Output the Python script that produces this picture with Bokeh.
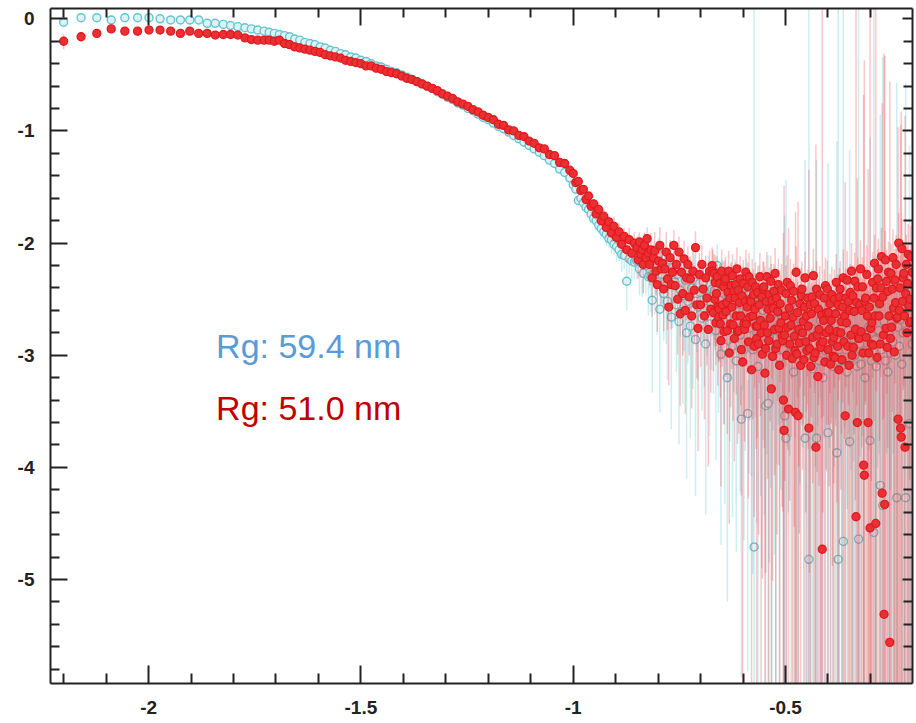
import math
from bokeh.plotting import figure
from bokeh.models import (ColumnDataSource, Range1d, LinearAxis, FixedTicker, Label,
                          CustomLabelingPolicy)
from bokeh.embed import file_html
from bokeh.resources import INLINE

# ---------------- data (log10 q, log10 I, relative error sigma/I) ----------------
log_q_cyan = [
    -2.200, -2.159, -2.122, -2.088, -2.056, -2.026, -1.999, -1.973, -1.948, -1.925,
    -1.903, -1.882, -1.862, -1.843, -1.824, -1.807, -1.790, -1.773, -1.758, -1.743, -1.728,
    -1.716, -1.704, -1.692, -1.680, -1.668, -1.656, -1.644, -1.632, -1.620, -1.608,
    -1.596, -1.584, -1.572, -1.560, -1.548, -1.536, -1.524, -1.512, -1.500, -1.488,
    -1.476, -1.464, -1.452, -1.440, -1.428, -1.416, -1.404, -1.392, -1.380, -1.368,
    -1.356, -1.344, -1.332, -1.320, -1.308, -1.296, -1.284, -1.272, -1.260, -1.248,
    -1.236, -1.224, -1.212, -1.200, -1.188, -1.176, -1.164, -1.152, -1.140, -1.128,
    -1.116, -1.104, -1.092, -1.080, -1.068, -1.056, -1.044, -1.032, -1.020, -1.008,
    -1.000, -0.994, -0.988, -0.982, -0.976, -0.970, -0.964, -0.958, -0.952, -0.946,
    -0.940, -0.934, -0.928, -0.922, -0.916, -0.910, -0.904, -0.898, -0.892, -0.886,
    -0.880, -0.874, -0.868, -0.862, -0.856,
    -0.850, -0.847, -0.844, -0.841, -0.838, -0.835, -0.832, -0.829, -0.826, -0.823,
    -0.820, -0.817, -0.814, -0.811, -0.808, -0.805, -0.802, -0.799, -0.796, -0.793,
    -0.790, -0.787, -0.784, -0.781, -0.778, -0.775, -0.772, -0.769, -0.766, -0.763,
    -0.760, -0.757, -0.754, -0.751, -0.748, -0.745, -0.742, -0.739, -0.736, -0.733,
    -0.730, -0.727, -0.724, -0.721, -0.718, -0.715, -0.712, -0.709, -0.706, -0.703,
    -0.700, -0.697, -0.694, -0.691, -0.688, -0.685, -0.682, -0.679, -0.676, -0.673,
    -0.670, -0.667, -0.664, -0.661, -0.658, -0.655, -0.652, -0.649, -0.646, -0.643,
    -0.640, -0.637, -0.634, -0.631, -0.628, -0.625, -0.622, -0.619, -0.616, -0.613,
    -0.610, -0.607, -0.604, -0.601, -0.598, -0.595, -0.592, -0.589, -0.586, -0.583,
    -0.580, -0.577, -0.574, -0.571, -0.568, -0.565, -0.562, -0.559, -0.556, -0.553,
    -0.550, -0.547, -0.544, -0.541, -0.538, -0.535, -0.532, -0.529, -0.526, -0.523,
    -0.520, -0.517, -0.514, -0.511, -0.508, -0.505, -0.502, -0.499, -0.496, -0.493,
    -0.490, -0.487, -0.484, -0.481, -0.478, -0.475, -0.472, -0.469, -0.466, -0.463,
    -0.460, -0.457, -0.454, -0.451, -0.448, -0.445, -0.442, -0.439, -0.436, -0.433,
    -0.430, -0.427, -0.424, -0.421, -0.418, -0.415, -0.412, -0.409, -0.406, -0.403,
    -0.400, -0.397, -0.394, -0.391, -0.388, -0.385, -0.382, -0.379, -0.376, -0.373,
    -0.370, -0.367, -0.364, -0.361, -0.358, -0.355, -0.352, -0.349, -0.346, -0.343,
    -0.340, -0.337, -0.334, -0.331, -0.328, -0.325, -0.322, -0.319, -0.316, -0.313,
    -0.310, -0.307, -0.304, -0.301, -0.298, -0.295, -0.292, -0.289, -0.286, -0.283,
    -0.280, -0.277, -0.274, -0.271, -0.268, -0.265, -0.262, -0.259, -0.256, -0.253,
    -0.250, -0.247, -0.244, -0.241, -0.238, -0.235, -0.232, -0.229, -0.226, -0.223,
    -0.220, -0.217, -0.214, -0.211, -0.208, -0.205, -0.202,
]

log_i_cyan = [
    -0.03, 0.01, 0.01, -0.01, 0.01, 0.01, 0.01, 0.00, -0.01, -0.01,
    -0.01, -0.01, -0.04, -0.04, -0.05, -0.06, -0.07, -0.08, -0.09, -0.10, -0.11,
    -0.12, -0.13, -0.14, -0.15, -0.16, -0.18, -0.19, -0.21, -0.22, -0.23,
    -0.25, -0.26, -0.28, -0.29, -0.31, -0.32, -0.34, -0.35, -0.37, -0.38,
    -0.40, -0.42, -0.43, -0.45, -0.47, -0.48, -0.50, -0.52, -0.54, -0.56,
    -0.58, -0.60, -0.62, -0.65, -0.67, -0.70, -0.72, -0.75, -0.77, -0.80,
    -0.82, -0.85, -0.88, -0.90, -0.93, -0.96, -0.98, -1.01, -1.04, -1.07,
    -1.10, -1.13, -1.16, -1.19, -1.22, -1.26, -1.29, -1.34, -1.37, -1.42,
    -1.48, -1.52, -1.62, -1.60, -1.64, -1.68, -1.70, -1.74, -1.78, -1.80,
    -1.84, -1.87, -1.90, -1.92, -1.96, -1.97, -2.01, -2.03, -2.06, -2.10,
    -2.11, -2.34, -2.14, -2.16, -2.17,
    -2.16, -2.06, -2.23, -2.09, -2.18, -2.27, -2.05, -2.20, -2.12, -2.30,
    -2.18, -2.30, -2.51, -2.12, -2.26, -2.21, -2.35, -2.10, -2.59, -2.24,
    -2.28, -2.45, -2.20, -2.38, -2.52, -2.31, -2.15, -2.66, -2.36, -2.25,
    -2.35, -2.55, -2.28, -2.70, -2.42, -2.21, -2.61, -2.47, -2.33, -2.80,
    -2.52, -2.31, -2.74, -2.40, -2.60, -2.28, -2.86, -2.45, -2.57, -2.36,
    -2.44, -2.67, -2.35, -2.58, -2.90, -2.48, -2.30, -2.72, -2.53, -2.41,
    -2.60, -2.42, -2.78, -2.20, -2.66, -2.51, -2.99, -2.35, -2.70, -2.93,
    -2.55, -3.20, -2.48, -2.77, -2.38, -2.92, -2.63, -2.34, -3.05, -2.70,
    -2.61, -2.82, -3.57, -2.49, -2.95, -2.70, -2.40, -3.52, -2.76, -2.55,
    -2.68, -2.95, -4.71, -2.55, -2.80, -3.10, -2.47, -2.73, -2.90, -2.60,
    -2.72, -3.45, -2.58, -3.43, -2.85, -2.66, -3.00, -2.52, -2.78, -2.93,
    -2.75, -2.62, -3.02, -2.80, -2.68, -2.95, -3.54, -3.74, -2.71, -2.88,
    -2.80, -2.98, -2.65, -3.15, -2.74, -2.90, -2.58, -3.05, -2.85, -2.70,
    -2.82, -2.70, -3.74, -2.95, -2.64, -4.82, -3.00, -2.76, -3.12, -2.88,
    -2.90, -3.74, -2.78, -3.05, -2.69, -2.85, -3.20, -2.74, -2.96, -2.82,
    -3.69, -2.83, -3.00, -2.76, -3.10, -2.90, -2.72, -3.87, -4.82, -2.95,
    -2.88, -3.05, -4.66, -2.80, -2.95, -3.15, -2.78, -3.77, -2.92, -3.02,
    -2.85, -3.00, -2.76, -3.10, -4.64, -2.90, -3.08, -2.80, -2.96, -3.20,
    -2.82, -2.98, -2.75, -3.76, -3.05, -2.90, -4.58, -2.86, -3.10, -2.78,
    -2.78, -4.16, -2.95, -4.34, -2.70, -3.05, -2.88, -3.15, -2.82, -2.98,
    -2.70, -2.88, -2.62, -3.00, -4.27, -2.75, -2.92, -2.68, -3.08, -2.80,
    -2.62, -4.27, -2.78, -2.55, -3.61, -2.70, -2.90,
]

rel_err_cyan = [
    0.06, 0.04, 0.03, 0.03, 0.03, 0.02, 0.02, 0.02, 0.02, 0.02,
    0.02, 0.02, 0.02, 0.02, 0.02, 0.02, 0.02, 0.02, 0.02, 0.02, 0.02,
    0.02, 0.02, 0.02, 0.02, 0.02, 0.02, 0.02, 0.02, 0.02, 0.02,
    0.02, 0.02, 0.02, 0.02, 0.02, 0.02, 0.02, 0.02, 0.02, 0.02,
    0.02, 0.02, 0.02, 0.02, 0.02, 0.02, 0.03, 0.03, 0.03, 0.03,
    0.03, 0.03, 0.03, 0.03, 0.03, 0.03, 0.03, 0.03, 0.03, 0.03,
    0.04, 0.04, 0.04, 0.04, 0.04, 0.04, 0.04, 0.05, 0.05, 0.05,
    0.05, 0.05, 0.06, 0.06, 0.06, 0.06, 0.07, 0.07, 0.07, 0.08,
    0.08, 0.10, 0.12, 0.09, 0.14, 0.11, 0.16, 0.13, 0.12, 0.18,
    0.15, 0.20, 0.14, 0.22, 0.17, 0.25, 0.19, 0.27, 0.21, 0.30,
    0.24, 0.45, 0.26, 0.33, 0.29,
    0.30, 0.36, 0.42, 0.28, 0.50, 0.33, 0.38, 0.46, 0.31, 0.55,
    0.40, 0.52, 0.85, 0.36, 0.58, 0.45, 0.66, 0.40, 0.88, 0.50,
    0.48, 0.62, 0.42, 0.70, 0.80, 0.55, 0.45, 0.90, 0.60, 0.52,
    0.55, 0.75, 0.50, 0.92, 0.62, 0.48, 0.85, 0.68, 0.58, 0.95,
    0.72, 0.55, 0.90, 0.64, 0.80, 0.52, 0.96, 0.70, 0.78, 0.60,
    0.66, 0.85, 0.58, 0.80, 0.97, 0.70, 0.55, 0.90, 0.75, 0.62,
    0.82, 0.64, 0.93, 0.55, 0.86, 0.72, 0.98, 0.60, 0.88, 0.96,
    0.75, 0.99, 0.68, 0.90, 0.62, 0.97, 0.80, 0.58, 0.98, 0.85,
    0.90, 0.96, 0.995, 0.85, 0.98, 0.93, 0.80, 0.995, 0.95, 0.88,
    0.96, 0.99, 1e5, 0.90, 0.98, 5.0, 0.88, 0.97, 0.99, 0.93,
    0.98, 15, 0.95, 20, 0.99, 0.97, 2.0, 0.93, 0.99, 1.3,
    0.94, 0.90, 3.0, 0.96, 0.88, 1.5, 60, 200, 0.92, 0.97,
    0.92, 2.0, 0.86, 5.0, 0.90, 1.6, 0.84, 3.0, 0.95, 0.88,
    0.90, 0.86, 300, 2.5, 0.84, 1e5, 3.0, 0.92, 4.0, 0.88,
    0.92, 300, 0.86, 3.5, 0.80, 2.0, 6.0, 0.90, 2.8, 0.94,
    250, 0.90, 3.2, 0.84, 4.5, 0.92, 0.86, 600, 1e5, 2.8,
    0.90, 3.5, 1e5, 0.86, 2.8, 0.94, 0.88, 400, 0.92, 3.2,
    0.92, 3.0, 0.86, 3.8, 1e5, 0.90, 3.4, 0.88, 2.7, 5.0,
    0.88, 3.2, 0.92, 500, 3.6, 0.86, 1e5, 2.5, 4.0, 0.94,
    0.92, 2000, 3.0, 1e4, 0.86, 3.6, 0.90, 4.2, 2.4, 0.94,
    2.0, 0.90, 1.8, 3.2, 5000, 0.88, 3.0, 0.92, 3.6, 2.4,
    2.0, 5000, 0.90, 1.8, 300, 2.2, 0.92,
]

log_q_red = [
    -2.200, -2.159, -2.122, -2.088, -2.056, -2.026, -1.999, -1.973, -1.948, -1.925,
    -1.903, -1.882, -1.862, -1.843, -1.824, -1.807, -1.790, -1.773, -1.758, -1.743, -1.728,
    -1.716, -1.704, -1.692, -1.680, -1.668, -1.656, -1.644, -1.632, -1.620, -1.608,
    -1.596, -1.584, -1.572, -1.560, -1.548, -1.536, -1.524, -1.512, -1.500, -1.488,
    -1.476, -1.464, -1.452, -1.440, -1.428, -1.416, -1.404, -1.392, -1.380, -1.368,
    -1.356, -1.344, -1.332, -1.320, -1.308, -1.296, -1.284, -1.272, -1.260, -1.248,
    -1.236, -1.224, -1.212, -1.200, -1.188, -1.176, -1.164, -1.152, -1.140, -1.128,
    -1.116, -1.104, -1.092, -1.080, -1.068, -1.056, -1.044, -1.032, -1.020, -1.008,
    -1.000, -0.994, -0.988, -0.982, -0.976, -0.970, -0.964, -0.958, -0.952, -0.946,
    -0.940, -0.934, -0.928, -0.922, -0.916, -0.910, -0.904, -0.898, -0.892, -0.886,
    -0.880, -0.874, -0.868, -0.862, -0.856,
    -0.850, -0.847, -0.844, -0.841, -0.838, -0.835, -0.832, -0.829, -0.826, -0.823,
    -0.820, -0.817, -0.814, -0.811, -0.808, -0.805, -0.802, -0.799, -0.796, -0.793,
    -0.790, -0.787, -0.784, -0.781, -0.778, -0.775, -0.772, -0.769, -0.766, -0.763,
    -0.760, -0.757, -0.754, -0.751, -0.748, -0.745, -0.742, -0.739, -0.736, -0.733,
    -0.730, -0.727, -0.724, -0.721, -0.718, -0.715, -0.712, -0.709, -0.706, -0.703,
    -0.700, -0.697, -0.694, -0.691, -0.688, -0.685, -0.682, -0.679, -0.676, -0.673,
    -0.6715, -0.6700, -0.6685, -0.6670, -0.6655, -0.6640, -0.6625, -0.6610, -0.6595, -0.6580,
    -0.6565, -0.6550, -0.6535, -0.6520, -0.6505, -0.6490, -0.6475, -0.6460, -0.6445, -0.6430,
    -0.6415, -0.6400, -0.6385, -0.6370, -0.6355, -0.6340, -0.6325, -0.6310, -0.6295, -0.6280,
    -0.6265, -0.6250, -0.6235, -0.6220, -0.6205, -0.6190, -0.6175, -0.6160, -0.6145, -0.6130,
    -0.6115, -0.6100, -0.6085, -0.6070, -0.6055, -0.6040, -0.6025, -0.6010, -0.5995, -0.5980,
    -0.5965, -0.5950, -0.5935, -0.5920, -0.5905, -0.5890, -0.5875, -0.5860, -0.5845, -0.5830,
    -0.5815, -0.5800, -0.5785, -0.5770, -0.5755, -0.5740, -0.5725, -0.5710, -0.5695, -0.5680,
    -0.5665, -0.5650, -0.5635, -0.5620, -0.5605, -0.5590, -0.5575, -0.5560, -0.5545, -0.5530,
    -0.5515, -0.5500, -0.5485, -0.5470, -0.5455, -0.5440, -0.5425, -0.5410, -0.5395, -0.5380,
    -0.5365, -0.5350, -0.5335, -0.5320, -0.5305, -0.5290, -0.5275, -0.5260, -0.5245, -0.5230,
    -0.5215, -0.5200, -0.5185, -0.5170, -0.5155, -0.5140, -0.5125, -0.5110, -0.5095, -0.5080,
    -0.5065, -0.5050, -0.5035, -0.5020, -0.5005, -0.4990, -0.4975, -0.4960, -0.4945, -0.4930,
    -0.4915, -0.4900, -0.4885, -0.4870, -0.4855, -0.4840, -0.4825, -0.4810, -0.4795, -0.4780,
    -0.4765, -0.4750, -0.4735, -0.4720, -0.4705, -0.4690, -0.4675, -0.4660, -0.4645, -0.4630,
    -0.4615, -0.4600, -0.4585, -0.4570, -0.4555, -0.4540, -0.4525, -0.4510, -0.4495, -0.4480,
    -0.4465, -0.4450, -0.4435, -0.4420, -0.4405, -0.4390, -0.4375, -0.4360, -0.4345, -0.4330,
    -0.4315, -0.4300, -0.4285, -0.4270, -0.4255, -0.4240, -0.4225, -0.4210, -0.4195, -0.4180,
    -0.4165, -0.4150, -0.4135, -0.4120, -0.4105, -0.4090, -0.4075, -0.4060, -0.4045, -0.4030,
    -0.4015, -0.4000, -0.3985, -0.3970, -0.3955, -0.3940, -0.3925, -0.3910, -0.3895, -0.3880,
    -0.3865, -0.3850, -0.3835, -0.3820, -0.3805, -0.3790, -0.3775, -0.3760, -0.3745, -0.3730,
    -0.3715, -0.3700, -0.3685, -0.3670, -0.3655, -0.3640, -0.3625, -0.3610, -0.3595, -0.3580,
    -0.3565, -0.3550, -0.3535, -0.3520, -0.3505, -0.3490, -0.3475, -0.3460, -0.3445, -0.3430,
    -0.3415, -0.3400, -0.3385, -0.3370, -0.3355, -0.3340, -0.3325, -0.3310, -0.3295, -0.3280,
    -0.3265, -0.3250, -0.3235, -0.3220, -0.3205, -0.3190, -0.3175, -0.3160, -0.3145, -0.3130,
    -0.3115, -0.3100, -0.3085, -0.3070, -0.3055, -0.3040, -0.3025, -0.3010, -0.2995, -0.2980,
    -0.2965, -0.2950, -0.2935, -0.2920, -0.2905, -0.2890, -0.2875, -0.2860, -0.2845, -0.2830,
    -0.2815, -0.2800, -0.2785, -0.2770, -0.2755, -0.2740, -0.2725, -0.2710, -0.2695, -0.2680,
    -0.2665, -0.2650, -0.2635, -0.2620, -0.2605, -0.2590, -0.2575, -0.2560, -0.2545, -0.2530,
    -0.2515, -0.2500, -0.2485, -0.2470, -0.2455, -0.2440, -0.2425, -0.2410, -0.2395, -0.2380,
    -0.2365, -0.2350, -0.2335, -0.2320, -0.2305, -0.2290, -0.2275, -0.2260, -0.2245, -0.2230,
    -0.2215, -0.2200, -0.2185, -0.2170, -0.2155, -0.2140, -0.2125, -0.2110, -0.2095, -0.2080,
    -0.2065, -0.2050, -0.2035, -0.2020,
]

log_i_red = [
    -0.20, -0.16, -0.13, -0.09, -0.11, -0.11, -0.10, -0.10, -0.11, -0.13,
    -0.11, -0.13, -0.13, -0.145, -0.14, -0.14, -0.145, -0.17, -0.185, -0.19, -0.19,
    -0.19, -0.20, -0.19, -0.22, -0.23, -0.25, -0.26, -0.27, -0.28, -0.29,
    -0.30, -0.32, -0.33, -0.34, -0.35, -0.37, -0.38, -0.39, -0.40, -0.42,
    -0.42, -0.44, -0.45, -0.47, -0.48, -0.49, -0.51, -0.53, -0.54, -0.56,
    -0.58, -0.60, -0.62, -0.64, -0.67, -0.69, -0.71, -0.74, -0.76, -0.78,
    -0.81, -0.83, -0.86, -0.88, -0.90, -0.94, -0.95, -0.99, -1.00, -1.04,
    -1.05, -1.09, -1.11, -1.15, -1.16, -1.21, -1.22, -1.28, -1.29, -1.35,
    -1.38, -1.46, -1.45, -1.53, -1.52, -1.61, -1.58, -1.67, -1.65, -1.74,
    -1.70, -1.80, -1.76, -1.86, -1.81, -1.91, -1.85, -1.95, -1.90, -2.01,
    -1.94, -2.06, -1.97, -2.09, -2.00,
    -2.04, -2.15, -1.99, -2.10, -2.06, -2.19, -2.02, -2.13, -1.96, -2.09,
    -2.19, -2.06, -2.31, -2.13, -2.07, -2.25, -2.37, -2.16, -2.02, -2.23,
    -2.18, -2.41, -2.23, -2.08, -2.32, -2.57, -2.13, -2.37, -2.26, -2.02,
    -2.38, -2.19, -2.50, -2.08, -2.63, -2.26, -2.45, -2.14, -2.60, -2.31,
    -2.19, -2.48, -2.32, -2.65, -2.25, -2.42, -2.04, -2.55, -2.76, -2.28,
    -2.55, -2.19, -2.41, -2.65, -2.31, -2.49, -2.77, -2.25, -2.59, -2.20,
    -2.25, -2.62, -2.27, -2.50, -2.35, -2.71, -2.45, -2.30, -2.57, -2.66,
    -2.59, -2.36, -2.72, -2.87, -2.25, -2.55, -2.64, -2.39, -2.79, -2.34,
    -2.32, -2.61, -2.53, -2.78, -2.44, -2.25, -2.98, -2.49, -2.72, -2.38,
    -2.57, -2.29, -2.73, -2.43, -2.85, -2.49, -2.37, -2.65, -2.23, -2.79,
    -2.42, -2.78, -2.53, -2.32, -2.65, -2.95, -2.47, -3.06, -2.36, -2.72,
    -2.77, -2.52, -2.26, -2.72, -2.57, -2.39, -2.88, -2.30, -2.66, -2.50,
    -2.52, -3.13, -2.35, -2.65, -2.46, -2.92, -2.59, -2.39, -2.74, -2.85,
    -2.74, -2.44, -2.90, -2.55, -2.30, -2.69, -2.80, -2.48, -2.99, -2.41,
    -2.39, -2.73, -3.16, -2.94, -2.52, -2.30, -2.80, -2.59, -2.87, -2.46,
    -2.67, -2.34, -3.30, -2.51, -3.01, -2.58, -2.43, -2.77, -2.27, -2.94,
    -2.49, -2.90, -2.61, -2.37, -2.76, -3.09, -2.54, -2.71, -2.42, -2.83,
    -2.87, -3.40, -3.67, -2.82, -2.65, -2.45, -3.00, -2.35, -2.75, -3.48,
    -2.58, -2.90, -2.38, -2.73, -2.51, -3.03, -2.66, -2.43, -2.83, -2.96,
    -3.51, -2.26, -2.99, -2.62, -3.54, -2.77, -2.89, -2.54, -3.09, -2.47,
    -2.41, -2.80, -2.70, -3.04, -2.57, -2.31, -2.88, -2.65, -2.96, -2.49,
    -2.74, -3.65, -2.94, -2.55, -3.10, -2.63, -2.48, -2.84, -2.29, -3.02,
    -2.54, -2.98, -3.82, -2.41, -2.82, -3.19, -2.59, -2.77, -2.46, -2.90,
    -2.93, -2.64, -4.73, -2.88, -2.69, -2.49, -3.06, -2.38, -2.80, -2.62,
    -2.41, -2.95, -2.62, -2.77, -2.54, -3.08, -2.69, -2.46, -2.88, -3.01,
    -2.84, -2.50, -3.02, -2.63, -2.35, -2.79, -2.92, -2.55, -3.13, -2.48,
    -2.41, -2.80, -2.70, -3.04, -2.57, -2.31, -2.88, -2.65, -3.54, -2.49,
    -2.71, -2.33, -2.92, -2.52, -3.09, -2.60, -2.44, -2.82, -2.25, -3.00,
    -2.47, -2.93, -2.61, -2.34, -2.77, -4.44, -2.53, -3.60, -2.39, -2.85,
    -2.85, -2.55, -2.23, -2.79, -2.60, -2.39, -2.98, -3.98, -4.07, -2.52,
    -2.49, -2.84, -2.28, -2.65, -3.60, -2.98, -2.57, -4.54, -2.76, -2.90,
    -2.71, -2.35, -2.91, -2.49, -2.18, -2.65, -4.50, -2.40, -3.02, -2.32,
    -2.23, -2.65, -2.54, -2.90, -2.40, -2.12, -4.23, -2.48, -2.82, -5.31,
    -4.33, -2.15, -2.76, -2.34, -2.93, -2.43, -2.26, -2.65, -5.56, -2.85,
    -2.27, -2.75, -2.41, -2.13, -2.58, -2.97, -2.33, -2.53, -2.19, -2.67,
    -2.66, -3.57, -2.00, -2.60, -2.40, -3.65, -3.73, -2.05, -2.52, -2.31,
    -2.27, -2.65, -3.82, -2.45, -2.19, -2.80, -2.36, -2.10, -2.56, -2.71,
    -2.50, -2.12, -2.70, -2.26,
]

rel_err_red = [
    0.15, 0.09, 0.07, 0.06, 0.05, 0.05, 0.04, 0.04, 0.04, 0.03,
    0.03, 0.03, 0.03, 0.03, 0.03, 0.02, 0.02, 0.02, 0.02, 0.02, 0.02,
    0.02, 0.02, 0.02, 0.02, 0.02, 0.02, 0.02, 0.02, 0.02, 0.02,
    0.02, 0.02, 0.02, 0.02, 0.02, 0.02, 0.02, 0.02, 0.02, 0.02,
    0.02, 0.02, 0.02, 0.02, 0.02, 0.02, 0.03, 0.03, 0.03, 0.03,
    0.03, 0.03, 0.03, 0.03, 0.03, 0.03, 0.03, 0.03, 0.03, 0.03,
    0.04, 0.04, 0.04, 0.04, 0.04, 0.04, 0.04, 0.05, 0.05, 0.05,
    0.05, 0.05, 0.06, 0.06, 0.06, 0.06, 0.07, 0.07, 0.07, 0.08,
    0.07, 0.09, 0.06, 0.10, 0.08, 0.12, 0.09, 0.14, 0.10, 0.13,
    0.16, 0.11, 0.15, 0.19, 0.13, 0.17, 0.22, 0.15, 0.20, 0.25,
    0.18, 0.23, 0.28, 0.21, 0.26,
    0.25, 0.32, 0.22, 0.38, 0.28, 0.45, 0.30, 0.35, 0.26, 0.40,
    0.35, 0.42, 0.55, 0.30, 0.48, 0.38, 0.62, 0.33, 0.45, 0.52,
    0.40, 0.58, 0.36, 0.50, 0.65, 0.80, 0.44, 0.60, 0.48, 0.38,
    0.50, 0.42, 0.68, 0.38, 0.85, 0.55, 0.72, 0.46, 0.88, 0.58,
    0.45, 0.70, 0.58, 0.85, 0.50, 0.66, 0.40, 0.78, 0.92, 0.55,
    0.72, 0.48, 0.65, 0.88, 0.58, 0.75, 0.94, 0.52, 0.82, 0.45,
    0.55, 0.70, 0.48, 0.62, 0.75, 0.58, 0.66, 0.52, 0.80, 0.60,
    0.65, 0.50, 0.78, 0.95, 0.56, 0.72, 0.60, 0.68, 0.85, 0.54,
    0.58, 0.74, 0.62, 0.88, 0.66, 0.52, 0.97, 0.70, 0.82, 0.60,
    0.72, 0.56, 0.86, 0.64, 0.92, 0.68, 0.58, 0.80, 0.55, 0.90,
    0.66, 0.88, 0.70, 0.60, 0.84, 0.95, 0.72, 6.0, 0.62, 0.86,
    0.90, 0.68, 0.58, 0.85, 0.74, 0.64, 0.96, 0.62, 0.88, 0.70,
    0.76, 5.0, 0.62, 0.88, 0.70, 0.97, 0.80, 0.66, 0.92, 1.4,
    0.90, 0.72, 0.98, 0.80, 0.64, 0.86, 1.3, 0.70, 0.99, 0.75,
    0.68, 0.92, 8.0, 0.99, 0.78, 0.66, 0.95, 0.84, 1.6, 0.74,
    0.88, 0.70, 12, 0.80, 0.99, 0.86, 0.74, 0.95, 0.68, 1.8,
    0.76, 0.98, 0.84, 0.70, 0.94, 2.0, 0.80, 0.90, 0.72, 0.97,
    0.97, 30, 150, 0.95, 0.88, 0.78, 1.5, 0.74, 0.92, 40,
    0.82, 0.96, 0.74, 0.90, 0.80, 2.4, 0.86, 0.76, 0.98, 1.6,
    60, 0.70, 1.8, 0.88, 80, 0.94, 0.98, 0.82, 3.0, 0.78,
    0.76, 0.94, 0.88, 2.2, 0.84, 0.72, 0.97, 0.86, 1.5, 0.80,
    0.92, 200, 0.99, 0.82, 3.5, 0.88, 0.78, 0.95, 0.74, 1.9,
    0.84, 1.7, 500, 0.78, 0.94, 4.0, 0.86, 0.96, 0.80, 1.3,
    1.6, 0.88, 1e5, 0.97, 0.86, 0.80, 2.6, 0.78, 0.94, 0.90,
    0.80, 1.9, 0.90, 0.96, 0.84, 3.2, 0.88, 0.78, 0.99, 2.0,
    0.95, 0.84, 2.4, 0.90, 0.80, 0.97, 1.5, 0.86, 4.5, 0.82,
    0.78, 0.96, 0.90, 2.8, 0.86, 0.80, 1.4, 0.92, 120, 0.84,
    0.92, 0.82, 1.8, 0.88, 3.6, 0.94, 0.80, 1.3, 0.78, 2.2,
    0.86, 1.6, 0.92, 0.80, 0.97, 1e5, 0.88, 150, 0.82, 2.5,
    1.9, 0.90, 0.80, 1.4, 0.94, 0.84, 3.0, 2000, 5000, 0.88,
    0.88, 1.7, 0.82, 0.96, 180, 2.6, 0.90, 1e5, 1.3, 0.94,
    1.5, 0.86, 2.2, 0.92, 0.80, 1.2, 1e5, 0.88, 3.4, 0.84,
    0.86, 1.4, 0.94, 2.5, 0.84, 0.80, 3000, 0.92, 1.8, 1e5,
    1e4, 0.82, 1.6, 0.90, 2.8, 0.96, 0.86, 1.3, 1e5, 2.0,
    0.84, 1.9, 0.92, 0.80, 1.4, 3.5, 0.88, 1.2, 0.82, 2.2,
    1.6, 400, 0.86, 1.3, 0.94, 500, 800, 0.84, 2.0, 0.90,
    0.90, 1.5, 900, 0.94, 0.84, 2.4, 1.2, 0.86, 1.8, 0.96,
    1.4, 0.88, 2.0, 0.92,
]

x_major = [-2, -1.5, -1, -0.5]
x_major_labels = ["-2", "-1.5", "-1", "-0.5"]
x_minor = [-2.2, -2.1, -1.9, -1.8, -1.7, -1.6, -1.4, -1.3, -1.2, -1.1,
           -0.9, -0.8, -0.7, -0.6, -0.4, -0.3, -0.2]
y_major = [0, -1, -2, -3, -4, -5]
y_major_labels = ["0", "-1", "-2", "-3", "-4", "-5"]
y_minor = [-0.2, -0.4, -0.6, -0.8, -1.2, -1.4, -1.6, -1.8, -2.2, -2.4, -2.6, -2.8,
           -3.2, -3.4, -3.6, -3.8, -4.2, -4.4, -4.6, -4.8, -5.2, -5.4, -5.6, -5.8]
rg_labels = ["Rg: 59.4 nm", "Rg: 51.0 nm"]


def make_source(xs, ys, rs):
    n = min(len(xs), len(ys), len(rs))
    up = [y + math.log10(1.0 + r) for y, r in zip(ys[:n], rs[:n])]
    lo = [y + math.log10(1.0 - r) if r < 1.0 else -12.0 for y, r in zip(ys[:n], rs[:n])]
    return ColumnDataSource(dict(x=xs[:n], y=ys[:n], lo=lo, up=up))


src_c = make_source(log_q_cyan, log_i_cyan, rel_err_cyan)
src_r = make_source(log_q_red, log_i_red, rel_err_red)

p = figure(width=916, height=723, output_backend="svg", toolbar_location=None,
           x_range=Range1d(-2.231, -0.201), y_range=Range1d(-5.927, 0.092),
           min_border_left=50, min_border_right=2, min_border_top=8, min_border_bottom=40)
p.grid.visible = False
p.outline_line_color = None
p.background_fill_color = "white"
p.border_fill_color = "white"

ink = "#222222"


def style(ax, tick_major, tick_minor, show_labels):
    ax.axis_line_width = 2
    ax.axis_line_color = ink
    ax.major_tick_line_width = 2
    ax.minor_tick_line_width = 2
    ax.major_tick_line_color = ink
    ax.minor_tick_line_color = ink
    ax.major_tick_in = tick_major
    ax.major_tick_out = 0
    ax.minor_tick_in = tick_minor
    ax.minor_tick_out = 0
    if show_labels:
        ax.major_label_text_font = "Liberation Sans"
        ax.major_label_text_font_style = "bold"
        ax.major_label_text_font_size = "19px"
        ax.major_label_text_color = ink
    else:
        ax.major_label_text_font_size = "1px"
        ax.major_label_standoff = 0
        ax.major_label_policy = CustomLabelingPolicy(code="return []")


xa = p.xaxis[0]
xa.ticker = FixedTicker(ticks=x_major, minor_ticks=x_minor)
xa.major_label_overrides = dict(zip(x_major, x_major_labels))
xa.major_label_standoff = 17
style(xa, 18, 10, True)

ya = p.yaxis[0]
ya.ticker = FixedTicker(ticks=y_major, minor_ticks=y_minor)
ya.major_label_overrides = dict(zip(y_major, y_major_labels))
ya.major_label_standoff = 16
style(ya, 17, 9, True)

top = LinearAxis(ticker=FixedTicker(ticks=x_major, minor_ticks=x_minor))
style(top, 17, 9, False)
p.add_layout(top, "above")
right = LinearAxis(ticker=FixedTicker(ticks=y_major, minor_ticks=y_minor))
style(right, 10, 9, False)
p.add_layout(right, "right")

# error bars and markers: cyan first, red on top
p.segment(x0="x", y0="lo", x1="x", y1="up", source=src_c,
          line_color="#6ccbd6", line_alpha=0.35, line_width=1.5)
p.scatter(x="x", y="y", source=src_c, marker="circle", size=8,
          fill_color="#dcf3f6", line_color="#66c4d0", line_width=1.4)
p.segment(x0="x", y0="lo", x1="x", y1="up", source=src_r,
          line_color="#e8353a", line_alpha=0.28, line_width=1.5)
p.scatter(x="x", y="y", source=src_r, marker="circle", size=8,
          fill_color="#ea3034", line_color="#e0191d", line_width=1.3)

p.add_layout(Label(x=-1.841, y=-2.914, text=rg_labels[0], text_font="Liberation Sans",
                   text_font_size="34px", text_color="#5b9bd5", text_baseline="middle"))
p.add_layout(Label(x=-1.841, y=-3.467, text=rg_labels[1], text_font="Liberation Sans",
                   text_font_size="34px", text_color="#c00000", text_baseline="middle"))

open("out.html", "w").write(file_html(p, INLINE))
